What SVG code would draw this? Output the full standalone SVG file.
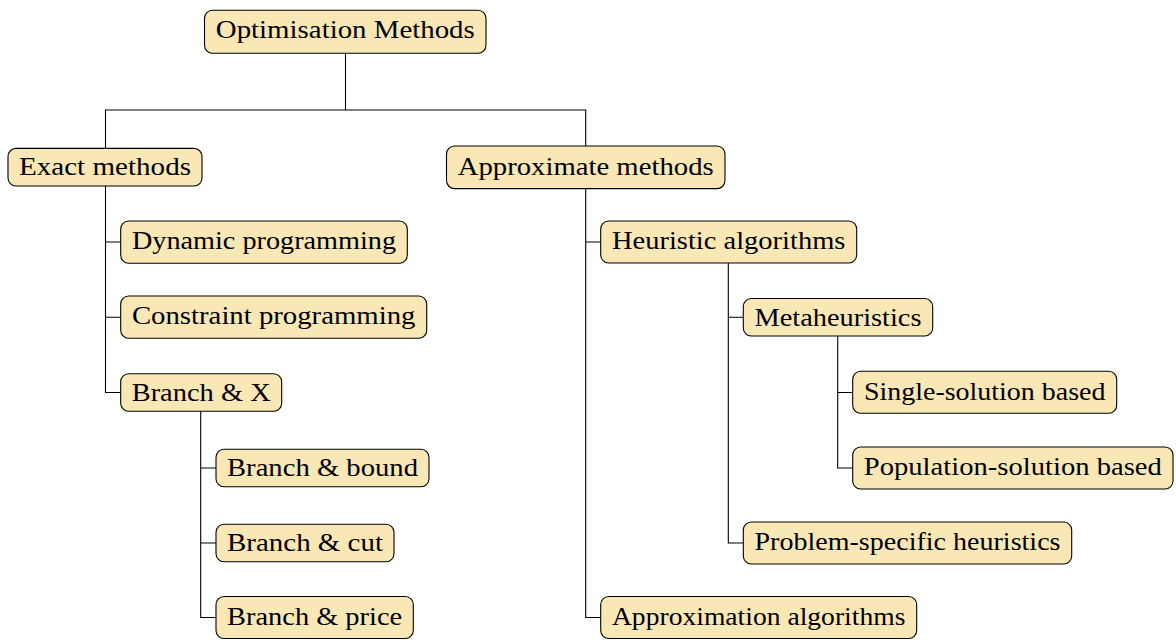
<svg xmlns="http://www.w3.org/2000/svg" width="1176" height="640" viewBox="0 0 1176 640">
<style>
.box{fill:#F9E7B5;stroke:#000;stroke-width:1.1}
.lbl{font-family:"Liberation Serif","DejaVu Serif",serif;font-size:25px;fill:#000;text-anchor:middle}
.conn{fill:none;stroke:#000;stroke-width:1.1}
</style>
<rect width="1176" height="640" fill="#fff"/>
<g id="connectors" class="conn">
<path d="M345.5,53.3 V110 M105.5,148.4 V110 H585.7 V146"/>
<path d="M105.5,186 V392.5 H120.7 M105.5,242 H120.7 M105.5,317.2 H120.7"/>
<path d="M200.7,411 V617.5 H216 M200.7,468 H216 M200.7,543 H216"/>
<path d="M585.7,188.6 V617.5 H600.7 M585.7,242 H600.7"/>
<path d="M728.3,263 V543 H743.3 M728.3,317.2 H743.3"/>
<path d="M837.7,336 V468 H852.7 M837.7,392.5 H852.7"/>
</g>
<g id="n-optimisation"><rect class="box" x="204.5" y="10.2" width="281.5" height="43" rx="8"/><text class="lbl" x="345.3" y="37.6" textLength="259" lengthAdjust="spacingAndGlyphs">Optimisation Methods</text></g>
<g id="n-exact"><rect class="box" x="8" y="148.4" width="194" height="37.6" rx="8"/><text class="lbl" x="105" y="175.4" textLength="172" lengthAdjust="spacingAndGlyphs">Exact methods</text></g>
<g id="n-approximate"><rect class="box" x="446.5" y="146" width="278.5" height="42.6" rx="8"/><text class="lbl" x="585.7" y="174.6" textLength="256" lengthAdjust="spacingAndGlyphs">Approximate methods</text></g>
<g id="n-dynamic"><rect class="box" x="120.7" y="221" width="286.6" height="42.3" rx="8"/><text class="lbl" x="264" y="249" textLength="264" lengthAdjust="spacingAndGlyphs">Dynamic programming</text></g>
<g id="n-constraint"><rect class="box" x="120.7" y="296" width="306" height="42.3" rx="8"/><text class="lbl" x="273.7" y="324" textLength="283.5" lengthAdjust="spacingAndGlyphs">Constraint programming</text></g>
<g id="n-branchx"><rect class="box" x="120.7" y="373.8" width="161" height="37.5" rx="8"/><text class="lbl" x="201.2" y="400.8" textLength="139" lengthAdjust="spacingAndGlyphs">Branch &amp; X</text></g>
<g id="n-bound"><rect class="box" x="216" y="449.2" width="213" height="37.5" rx="8"/><text class="lbl" x="322.5" y="476.2" textLength="191" lengthAdjust="spacingAndGlyphs">Branch &amp; bound</text></g>
<g id="n-cut"><rect class="box" x="216" y="524.3" width="178" height="37.5" rx="8"/><text class="lbl" x="305" y="551.3" textLength="156" lengthAdjust="spacingAndGlyphs">Branch &amp; cut</text></g>
<g id="n-price"><rect class="box" x="216" y="596.5" width="197.3" height="42" rx="8"/><text class="lbl" x="314.6" y="625.3" textLength="175" lengthAdjust="spacingAndGlyphs">Branch &amp; price</text></g>
<g id="n-heuristic"><rect class="box" x="600.7" y="221" width="256" height="42" rx="8"/><text class="lbl" x="728.7" y="249" textLength="233.5" lengthAdjust="spacingAndGlyphs">Heuristic algorithms</text></g>
<g id="n-meta"><rect class="box" x="743.3" y="298.5" width="189.4" height="37.5" rx="8"/><text class="lbl" x="838" y="325.5" textLength="167" lengthAdjust="spacingAndGlyphs">Metaheuristics</text></g>
<g id="n-single"><rect class="box" x="852.7" y="371.2" width="264" height="42" rx="8"/><text class="lbl" x="984.7" y="399.5" textLength="241.5" lengthAdjust="spacingAndGlyphs">Single-solution based</text></g>
<g id="n-population"><rect class="box" x="852.7" y="447" width="320.3" height="42" rx="8"/><text class="lbl" x="1012.8" y="475" textLength="298" lengthAdjust="spacingAndGlyphs">Population-solution based</text></g>
<g id="n-problem"><rect class="box" x="743.3" y="522" width="328.4" height="42" rx="8"/><text class="lbl" x="907.5" y="550.3" textLength="306" lengthAdjust="spacingAndGlyphs">Problem-specific heuristics</text></g>
<g id="n-approxalg"><rect class="box" x="600.7" y="596.5" width="316" height="42" rx="8"/><text class="lbl" x="758.7" y="625.3" textLength="293.5" lengthAdjust="spacingAndGlyphs">Approximation algorithms</text></g>
</svg>
